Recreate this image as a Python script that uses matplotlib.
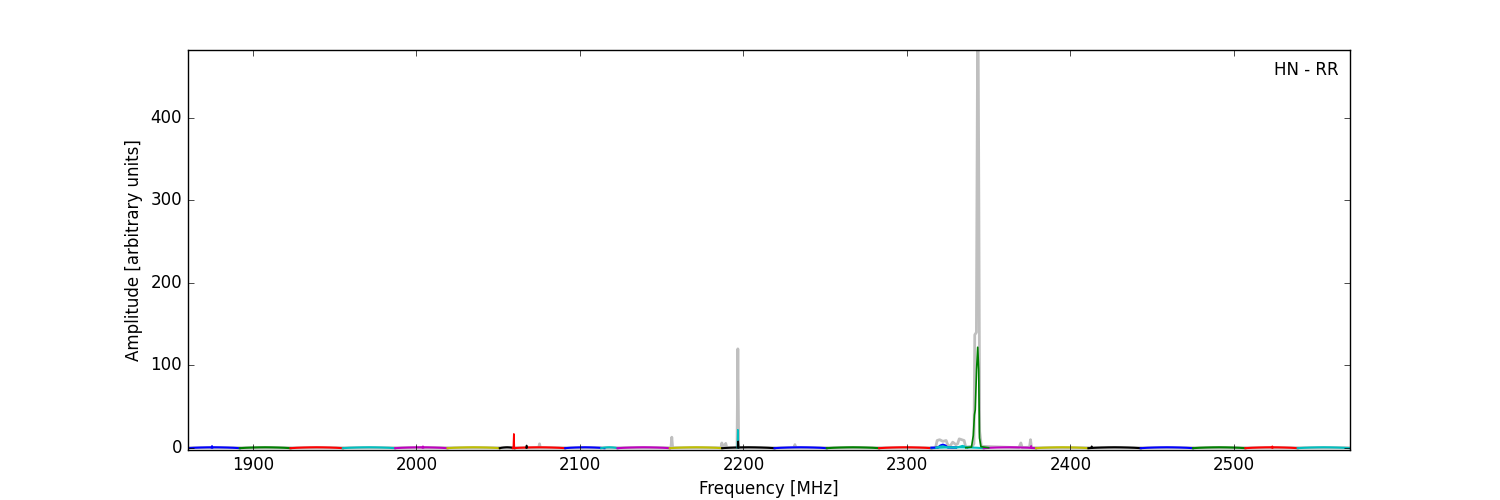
import numpy as np
import matplotlib.pyplot as plt

plt.style.use('classic')

# sub-band edges [MHz] and colours
band_lo = [1860, 1892, 1923, 1955, 1987, 2019, 2051, 2059, 2091, 2113, 2123, 2155,
           2187, 2219, 2251, 2283, 2315, 2347, 2379, 2411, 2443, 2475, 2507, 2539]
band_hi = [1892, 1923, 1955, 1987, 2019, 2051, 2060, 2091, 2115, 2123, 2155, 2187,
           2219, 2251, 2283, 2315, 2347, 2379, 2411, 2443, 2475, 2507, 2539, 2571]
band_col = ['b', 'g', 'r', 'c', 'm', 'y', 'k', 'r', 'b', 'c', 'm', 'y',
            'k', 'b', 'g', 'r', 'c', 'm', 'y', 'k', 'b', 'g', 'r', 'c']
# bandpass shape across a sub-band
band_shape = [-0.3, 0.2, 0.5, 0.7, 0.8, 0.7, 0.5, 0.2, -0.3]

# narrow RFI spikes in the coloured (cleaned) spectra
spike_freq = [1875.0, 2004.0, 2059.6, 2067.4, 2196.6, 2196.8, 2376.0, 2413.0, 2523.5]
spike_amp = [2.5, 2.0, 17.0, 3.0, 22.0, 8.0, 2.5, 2.0, 2.0]
spike_col = ['b', 'm', 'r', 'k', 'c', 'k', 'm', 'k', 'r']

# blue and cyan bumps near 2320-2336 MHz
blue_freq = [2315, 2319, 2320.5, 2322, 2323.5, 2325, 2330]
blue_amp = [0.3, 0.6, 3.0, 4.0, 3.0, 0.6, 0.3]
cyan_freq = [2318, 2320, 2322, 2324, 2330, 2332.5, 2334, 2335.5, 2337]
cyan_amp = [0.3, 1.5, 2.0, 1.0, 0.3, 1.5, 2.5, 1.5, 0.3]

# strong line at ~2343 MHz
green_freq = [2336, 2339.5, 2340.6, 2341.3, 2341.8, 2342.6, 2343.3, 2343.9, 2344.4, 2345.3, 2350]
green_amp = [0.3, 1.0, 15.0, 40.0, 46.0, 95.0, 122.0, 95.0, 12.0, 1.5, 0.3]

# raw (uncleaned) spectrum in grey
gray_freq = [1860, 2074.8, 2075.3, 2075.8, 2155.7, 2156.2, 2156.7, 2186.3, 2186.8, 2187.5,
             2188.5, 2189.2, 2189.8, 2196.1, 2196.6, 2197.1, 2231.0, 2231.5, 2232.0,
             2317.5, 2318.5, 2320.0, 2322.0, 2324.0, 2325.5, 2327.0, 2328.0, 2330.0,
             2331.0, 2332.0, 2333.5, 2335.0, 2336.0, 2340.0, 2341.0, 2341.5, 2342.5,
             2343.2, 2343.6, 2344.0, 2344.5, 2345.5, 2368.5, 2369.7, 2370.5, 2375.0,
             2375.6, 2376.2, 2571]
gray_amp = [0.3, 0.3, 5.0, 0.3, 0.3, 13.0, 0.3, 0.3, 6.0, 2.0,
            2.0, 5.5, 0.3, 0.3, 120.0, 0.3, 0.3, 4.0, 0.3,
            0.3, 9.0, 10.0, 8.0, 9.0, 1.0, 4.0, 7.0, 4.0,
            5.0, 11.0, 10.0, 9.0, 1.0, 2.0, 5.0, 137.0, 140.0,
            480.0, 482.0, 300.0, 20.0, 2.0, 0.3, 6.0, 0.3, 1.0,
            10.0, 0.3, 0.3]

fig = plt.figure(figsize=(15, 5), dpi=100)
ax = fig.add_subplot(111)

ax.plot(gray_freq, gray_amp, color='0.75', lw=2)

for lo, hi, c in zip(band_lo, band_hi, band_col):
    f = np.linspace(lo, hi, len(band_shape))
    ax.plot(f, band_shape, color=c, lw=1.5)

for f, a, c in zip(spike_freq, spike_amp, spike_col):
    ax.plot([f - 0.3, f, f + 0.3], [0.3, a, 0.3], color=c, lw=1.2)

ax.plot(blue_freq, blue_amp, color='b', lw=1.5)
ax.plot(cyan_freq, cyan_amp, color='c', lw=1.5)
ax.plot(green_freq, green_amp, color='g', lw=1.2)

ax.set_xlim(1860, 2571)
ax.set_ylim(-2.5, 482)
ax.set_yticks([0, 100, 200, 300, 400])
ax.set_xlabel('Frequency [MHz]')
ax.set_ylabel('Amplitude [arbitrary units]')
ax.text(0.99, 0.95, 'HN - RR', transform=ax.transAxes, ha='right', va='center')

plt.savefig('out.png', dpi=100, facecolor='white')
